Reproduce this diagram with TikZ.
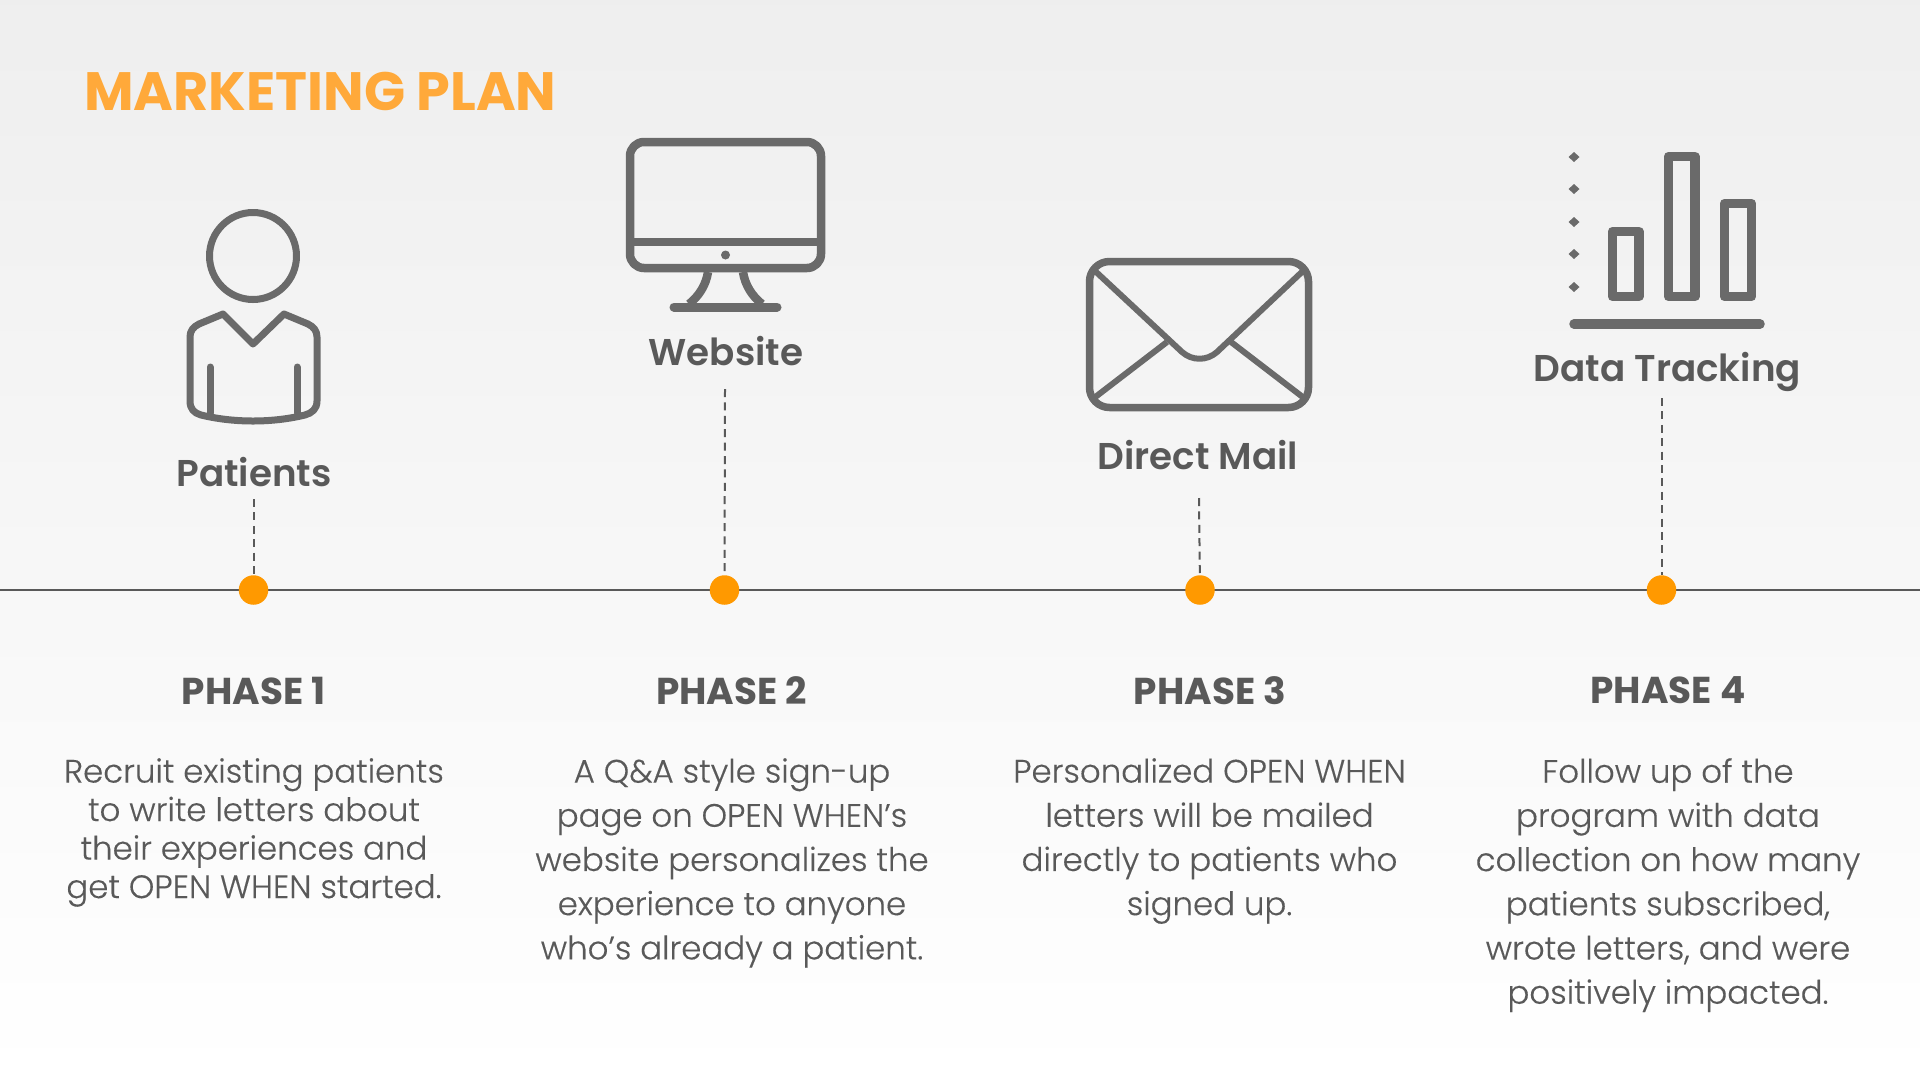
\documentclass[tikz,border=0pt]{standalone}
\usepackage{fontspec}
\setmainfont{Poppins}
\newfontfamily\semi{Poppins SemiBold}
\newfontfamily\light[FakeBold=0.25]{Poppins Light}
\usetikzlibrary{calc}
\definecolor{txt}{HTML}{595959}
\definecolor{icon}{HTML}{6A6A6A}
\definecolor{org}{HTML}{FF9900}
\definecolor{ttl}{HTML}{FFA93A}
\tikzset{
  x=1pt,y=-1pt,
  ic/.style={draw=icon,line width=#1,line cap=round,line join=round},
  lab/.style={font=\semi\fontsize{37.3}{44}\selectfont,text=txt,inner sep=0pt,anchor=center},
  phase/.style={font=\fontsize{37.4}{42}\bfseries\selectfont,text=txt,inner sep=0pt,anchor=center},
  bodyA/.style={font=\light\fontsize{32.4}{38.5}\selectfont,text=txt,inner sep=0pt,align=center,anchor=north},
  bodyB/.style={font=\light\fontsize{32.4}{44.2}\selectfont,text=txt,inner sep=0pt,align=center,anchor=north},
  dotn/.style={circle,fill=org,minimum size=29.5pt,inner sep=0pt},
  dashln/.style={draw=txt,line width=2pt,dash pattern=on 8pt off 5.4pt},
}
\begin{document}
\begin{tikzpicture}
\useasboundingbox (0,0) rectangle (1920,1080);
\shade[top color=black!6.5,bottom color=white,shading angle=0] (0,0) rectangle (1920,1080);
% title
\node[anchor=base west,inner sep=0pt,text=ttl,font=\fontsize{54}{60}\bfseries\selectfont] (title) at (84,110) {MARKETING PLAN};
% timeline
\coordinate (tlL) at (0,590);
\coordinate (tlR) at (1920,590);
\draw[draw=txt,line width=2pt] (tlL) -- (tlR);
\node[dotn] (d1) at (253.5,590) {};
\node[dotn] (d2) at (724.5,590) {};
\node[dotn] (d3) at (1200,590) {};
\node[dotn] (d4) at (1661.5,590) {};
\coordinate (s1) at (253.5,499);
\coordinate (s2) at (725,389);
\coordinate (s3) at (1199,498);
\coordinate (s4) at (1661.5,398);
\draw[dashln] (s1) -- (d1);
\draw[dashln] (s2) -- (d2);
\draw[dashln] (s3) -- (d3);
\draw[dashln] (s4) -- (d4);
% labels
\node[lab] (l1) at (254,472) {Patients};
\node[lab] (l2) at (726,351) {Website};
\node[lab] (l3) at (1198,455) {Direct Mail};
\node[lab] (l4) at (1667.5,372) {Data Tracking};
% phases
\node[phase] (p1) at (253.5,690.5) {PHASE 1};
\node[phase] (p2) at (731.5,690.5) {PHASE 2};
\node[phase] (p3) at (1210,690.5) {PHASE 3};
\node[phase] (p4) at (1668,690.5) {PHASE 4};
% body
\node[bodyA] (b1) at (254,758) {Recruit existing patients\\to write letters about\\their experiences and\\get OPEN WHEN started.};
\node[bodyB] (b2) at (732,758) {A Q\&A style sign-up\\page on OPEN WHEN’s\\website personalizes the\\experience to anyone\\who’s already a patient.};
\node[bodyB] (b3) at (1209.5,758) {Personalized OPEN WHEN\\letters will be mailed\\directly to patients who\\signed up.};
\node[bodyB] (b4) at (1668,758) {Follow up of the\\program with data\\collection on how many\\patients subscribed,\\wrote letters, and were\\positively impacted.};
% person icon
\draw[ic=7pt] (253,256) circle (43.5);
\draw[ic=7pt] (223,314) -- (253,344) -- (284,314) -- (308,324)
  .. controls (314,327) and (317,331) .. (317,337) -- (317,401)
  .. controls (317,409) and (312,413) .. (305,415)
  .. controls (272,423) and (234,423) .. (201,415)
  .. controls (194,413) and (190,409) .. (190,401) -- (190,337)
  .. controls (190,331) and (193,327) .. (199,324) -- cycle;
\draw[ic=7pt] (210,367) -- (210,413);
\draw[ic=7pt] (297,367) -- (297,413);
% monitor icon
\draw[ic=8.5pt,rounded corners=14pt] (630,142) rectangle (821,268);
\draw[ic=8.5pt,line cap=butt] (630,242) -- (821,242);
\fill[icon] (725.5,255) circle (4.5);
\draw[ic=8.5pt,line cap=butt] (708,272) .. controls (706,285) and (699,296) .. (689,304);
\draw[ic=8.5pt,line cap=butt] (743,272) .. controls (745,285) and (752,296) .. (762,304);
\draw[ic=9pt] (674,307) -- (777,307);
% envelope icon
\draw[ic=7.5pt,rounded corners=20pt] (1089.5,261.5) rectangle (1308.5,407.5);
\draw[ic=6pt,line cap=butt] (1094,270) -- (1182,352) .. controls (1192,361) and (1207,361) .. (1217,352) -- (1304,270);
\draw[ic=6pt,line cap=butt] (1094,398) -- (1167,342);
\draw[ic=6pt,line cap=butt] (1231,342) -- (1304,398);
% chart icon
\foreach \yy in {157,189,222,254,287}{\fill[icon] (1574,\yy-5) -- (1579.5,\yy) -- (1574,\yy+5) -- (1568.5,\yy) -- cycle;}
\draw[ic=9.5pt] (1612.5,231.5) rectangle (1639,296.5);
\draw[ic=9.5pt] (1668.5,156.5) rectangle (1695,296.5);
\draw[ic=9.5pt] (1724.5,203.5) rectangle (1751.5,296.5);
\draw[ic=9.5pt] (1574,324) -- (1760,324);
\end{tikzpicture}
\end{document}
